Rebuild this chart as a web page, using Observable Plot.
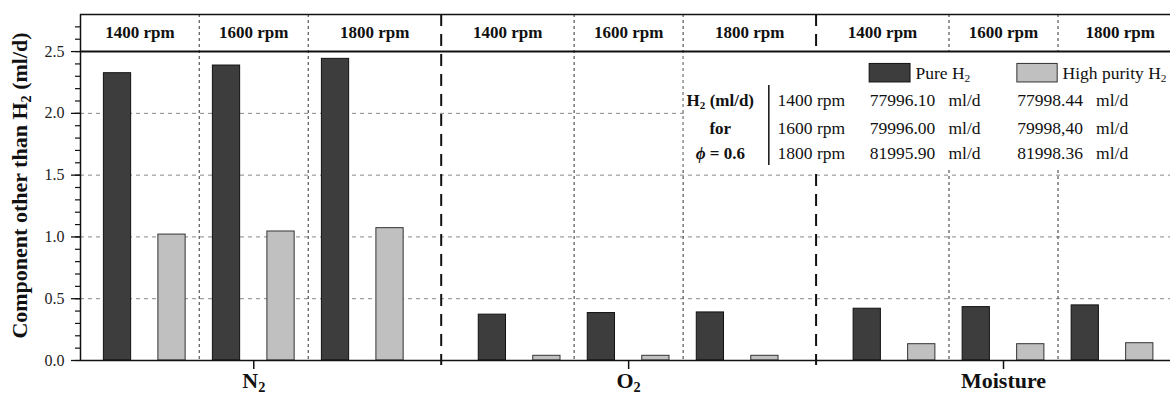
<!DOCTYPE html>
<html><head><meta charset="utf-8">
<script src="https://cdn.jsdelivr.net/npm/d3@7"></script>
<script src="https://cdn.jsdelivr.net/npm/@observablehq/plot@0.6"></script>
<style>
html,body{margin:0;padding:0;background:#fff;overflow:hidden;}
</style></head><body><div id="chart"></div>
<script>
// ---------- data ----------
const groups = ["N₂", "O₂", "Moisture"];
const rpms = ["1400 rpm", "1600 rpm", "1800 rpm"];
const seriesNames = ["Pure H₂", "High purity H₂"];
const pureH2 = [2.325, 2.387, 2.441, 0.371, 0.384, 0.389, 0.419, 0.432, 0.446];
const highPurityH2 = [1.019, 1.044, 1.071, 0.038, 0.038, 0.038, 0.132, 0.132, 0.140];
const yTicks = [0, 0.5, 1.0, 1.5, 2.0, 2.5];
const yTitle = "Component other than H₂ (ml/d)";
const tableHead = ["H₂ (ml/d)", "for", "ϕ = 0.6"];
const tableRpms = ["1400 rpm", "1600 rpm", "1800 rpm"];
const tablePure = ["77996.10\u00a0\u00a0 ml/d", "79996.00\u00a0\u00a0 ml/d", "81995.90\u00a0\u00a0 ml/d"];
const tableHigh = ["77998.44\u00a0\u00a0 ml/d", "79998,40\u00a0\u00a0 ml/d", "81998.36\u00a0\u00a0 ml/d"];

// ---------- layout (in scale units) ----------
const L = {
  stride: 6.878, half: 0.25, xMin: -0.679, xMax: 19.54,
  yMax: 2.8, header: 2.5, headerText: 2.65,
  rowY: [2.104, 1.877, 1.675], legendY: [2.25, 2.40], legendTextY: 2.323,
  headX: 11.06, vlineX: 11.95, vlineY: [1.578, 2.225],
  rpmX: 12.11, pureX: 13.80, highX: 16.51,
  swPure: [13.80, 14.55], swHigh: [16.51, 17.25], txPure: 14.64, txHigh: 17.34,
  box: [1.55, 2.5]
};
const DARK = "#3d3d3d", LIGHT = "#c0c0c0";

const bars = [];
groups.forEach((g, gi) => rpms.forEach((r, ri) => {
  [pureH2, highPurityH2].forEach((arr, si) => {
    const pos = gi * L.stride + ri * 2 + si;
    bars.push({group: g, rpm: r, series: seriesNames[si], value: arr[gi * 3 + ri], x1: pos - L.half, x2: pos + L.half});
  });
}));
const groupCenters = groups.map((g, gi) => gi * L.stride + 2.5);
const centerName = new Map(groupCenters.map((c, i) => [c, groups[i]]));
const groupSeps = [0, 1].map(gi => gi * L.stride + 5 + (L.stride - 5) / 2);
const subSeps = [];
groups.forEach((g, gi) => { subSeps.push(gi * L.stride + 1.5, gi * L.stride + 3.5); });
const headerCells = [];
groups.forEach((g, gi) => {
  const bounds = [gi === 0 ? L.xMin : groupSeps[gi - 1], gi * L.stride + 1.5, gi * L.stride + 3.5, gi === 2 ? L.xMax : groupSeps[gi]];
  rpms.forEach((r, ri) => headerCells.push({label: r, x: (bounds[ri] + bounds[ri + 1]) / 2}));
});
const minorTicks = d3.range(0, 28).map(i => i / 10);

const chart = Plot.plot({
  width: 1170, height: 399,
  marginLeft: 80, marginRight: 0, marginTop: 14, marginBottom: 39,
  x: {type: "linear", domain: [L.xMin, L.xMax], range: [80, 1182]},
  y: {domain: [0, L.yMax]},
  style: {fontFamily: "'Liberation Serif', 'Times New Roman', serif", fontSize: "16px", background: "white", color: "#111"},
  marks: [
    Plot.ruleY([0.5, 1.0, 1.5, 2.0], {stroke: "#888", strokeWidth: 1, strokeDasharray: "4,4"}),
    Plot.ruleX(subSeps, {stroke: "#555", strokeWidth: 1.2, strokeDasharray: "3,3"}),
    Plot.ruleX(groupSeps, {stroke: "#111", strokeWidth: 2, strokeDasharray: "12,8"}),
    Plot.rect([0], {x1: subSeps[3] + 0.02, x2: L.xMax, y1: L.box[0], y2: L.box[1], fill: "white"}),
    Plot.rectY(bars.filter(d => d.series === seriesNames[0]), {x1: "x1", x2: "x2", y: "value", fill: DARK, stroke: "#111", strokeWidth: 1}),
    Plot.rectY(bars.filter(d => d.series === seriesNames[1]), {x1: "x1", x2: "x2", y: "value", fill: LIGHT, stroke: "#333", strokeWidth: 1}),
    Plot.ruleY([L.header], {stroke: "#111", strokeWidth: 2}),
    Plot.ruleY([L.yMax], {stroke: "#111", strokeWidth: 1.5}),
    Plot.ruleY([0], {stroke: "#111", strokeWidth: 1.5}),
    Plot.ruleX([L.xMin], {stroke: "#111", strokeWidth: 1.5}),
    Plot.text(headerCells, {x: "x", y: L.headerText, text: "label", fontWeight: "bold", fontSize: 17}),
    // legend
    Plot.rect([seriesNames[0]], {x1: L.swPure[0], x2: L.swPure[1], y1: L.legendY[0], y2: L.legendY[1], fill: DARK, stroke: "#111"}),
    Plot.rect([seriesNames[1]], {x1: L.swHigh[0], x2: L.swHigh[1], y1: L.legendY[0], y2: L.legendY[1], fill: LIGHT, stroke: "#333"}),
    Plot.text([seriesNames[0]], {x: L.txPure, y: L.legendTextY, text: d => d, textAnchor: "start", fontSize: 17.5}),
    Plot.text([seriesNames[1]], {x: L.txHigh, y: L.legendTextY, text: d => d, textAnchor: "start", fontSize: 17.5}),
    // table
    Plot.text(tableHead, {x: L.headX, y: (d, i) => L.rowY[i], text: d => d, fontWeight: "bold", fontSize: 17}),
    Plot.ruleX([L.vlineX], {y1: L.vlineY[0], y2: L.vlineY[1], stroke: "#111", strokeWidth: 1.5}),
    Plot.text(tableRpms, {x: L.rpmX, y: (d, i) => L.rowY[i], text: d => d, textAnchor: "start", fontSize: 17.5}),
    Plot.text(tablePure, {x: L.pureX, y: (d, i) => L.rowY[i], text: d => d, textAnchor: "start", fontSize: 17.5}),
    Plot.text(tableHigh, {x: L.highX, y: (d, i) => L.rowY[i], text: d => d, textAnchor: "start", fontSize: 17.5}),
    // axes
    Plot.axisY(yTicks, {tickSize: 9, tickPadding: 7, tickFormat: d3.format(".1f"), fontSize: 16, strokeWidth: 1.3, fill: "#222", label: null}),
    Plot.axisY(minorTicks, {tickSize: 5, tickFormat: () => "", strokeWidth: 1.2, label: null}),
    Plot.axisX(groupCenters, {tickSize: 9, tickPadding: 3, tickFormat: d => centerName.get(d), fontSize: 22, fontWeight: "bold", strokeWidth: 1.5, label: null}),
    Plot.axisX(groupSeps, {tickSize: 5, tickFormat: () => "", strokeWidth: 2, label: null}),
    Plot.text([yTitle], {frameAnchor: "left", textAnchor: "middle", rotate: -90, dx: -61, dy: -2, fontSize: 22, fontWeight: "bold"})
  ]
});

// subscripts and italic phi as real text via tspans
function fixText(svg) {
  const NS = "http://www.w3.org/2000/svg";
  svg.querySelectorAll("text").forEach(t => {
    const tsp = t.querySelectorAll("tspan");
    const targets = tsp.length ? [...tsp] : [t];
    targets.forEach(el => {
      const s = el.textContent;
      if (!/[₂ϕ]/.test(s)) return;
      el.textContent = "";
      let shifted = false;
      s.split(/([₂ϕ])/).forEach(p => {
        if (!p) return;
        const ts = document.createElementNS(NS, "tspan");
        if (p === "₂") {
          ts.textContent = "2"; ts.setAttribute("font-size", "65%"); ts.setAttribute("dy", "0.3em"); shifted = true;
        } else {
          ts.textContent = p;
          if (p === "ϕ") ts.setAttribute("font-style", "italic");
          if (shifted) { ts.setAttribute("dy", "-0.195em"); shifted = false; }
        }
        el.appendChild(ts);
      });
    });
  });
}
fixText(chart);
document.getElementById("chart").appendChild(chart);
</script></body></html>
